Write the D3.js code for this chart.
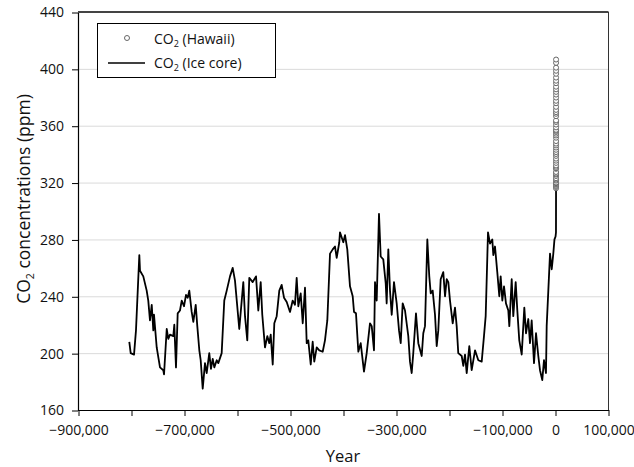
<!DOCTYPE html>
<html>
<head>
<meta charset="utf-8">
<script src="https://cdn.jsdelivr.net/npm/d3@7"></script>
<style>
  body { margin: 0; background: #fff; }
  svg { display: block; font-family: "Open Sans", sans-serif; }
</style>
</head>
<body>
<div id="chart"></div>
<script>
// ice core record (years relative to present, ppm)
var iceYears = [
  -803200, -800600, -794300, -790600, -784300, -783000, -776800, -770400, -767400, -764200,
  -760900, -757900, -756600, -751500, -745300, -739100, -737700, -732600, -729600, -726400,
  -720200, -718300, -715100, -711900, -707600, -704300, -700000, -696200, -693000, -690000,
  -685500, -682400, -677900, -674900, -671100, -668500, -664700, -660400, -657200, -652300,
  -649100, -645800, -642800, -638300, -635300, -628900, -624000, -619400, -613200, -608100,
  -603800, -595700, -591100, -588100, -584900, -580600, -576800, -570400, -564100, -559800,
  -555300, -552300, -547200, -542800, -539100, -536400, -532600, -529600, -525100, -520200,
  -515700, -511300, -506200, -500000, -494900, -490600, -487400, -484300, -479800, -476000,
  -471700, -468500, -465500, -460900, -457200, -454200, -449600, -444700, -438300, -434000,
  -429600, -424500, -419400, -415100, -411900, -407000, -405700, -399400, -396200, -391900,
  -386800, -381700, -379200, -375500, -371100, -366600, -360400, -355300, -349100, -345800,
  -341500, -339600, -336400, -332100, -328900, -324000, -319400, -317600, -314500, -311300,
  -308100, -303800, -298700, -294300, -291100, -287400, -283000, -276800, -273600, -270400,
  -267400, -262300, -257900, -251500, -248500, -245300, -240900, -237200, -234500, -230800,
  -226400, -223200, -220200, -215700, -210800, -207500, -204300, -201300, -198100, -193000,
  -188700, -185500, -182500, -176000, -173000, -169800, -166600, -161700, -157200, -150900,
  -144700, -138300, -134000, -130800, -126400, -122600, -118300, -116400, -113200, -108900,
  -105100, -102500, -99400, -96200, -92500, -88100, -86200, -81700, -78700, -74200,
  -71100, -67400, -62800, -57900, -54700, -50400, -47200, -44000, -39600, -35800,
  -31500, -28300, -24000, -20800, -17000, -15700, -12600, -9400, -6200, -3200,
  -1000, 1000, 1850, 1900, 1950, 1970, 1990, 2001
];
var iceCO2 = [
  208, 200, 199, 216, 269, 258, 254, 244, 237, 223,
  234, 216, 227, 204, 190, 188, 185, 217, 210, 213,
  212, 220, 190, 228, 230, 237, 233, 241, 239, 244,
  229, 222, 234, 219, 202, 195, 175, 193, 186, 200,
  189, 196, 190, 195, 193, 200, 237, 244, 254, 260,
  251, 217, 237, 250, 226, 209, 253, 250, 254, 230,
  250, 227, 204, 212, 207, 213, 192, 221, 226, 244,
  248, 239, 236, 229, 237, 234, 253, 233, 242, 221,
  246, 207, 209, 192, 208, 194, 204, 202, 201, 209,
  223, 270, 273, 275, 267, 278, 285, 278, 283, 273,
  247, 240, 229, 228, 201, 207, 187, 200, 221, 219,
  202, 250, 237, 298, 268, 266, 249, 235, 273, 244,
  227, 250, 235, 216, 207, 235, 230, 212, 194, 186,
  200, 228, 207, 198, 214, 219, 280, 254, 242, 244,
  227, 205, 216, 252, 257, 240, 252, 250, 237, 221,
  232, 219, 200, 198, 191, 199, 186, 205, 188, 202,
  195, 194, 212, 226, 285, 277, 280, 269, 275, 257,
  240, 254, 237, 247, 235, 230, 219, 252, 226, 250,
  230, 209, 199, 232, 214, 224, 207, 223, 193, 214,
  198, 188, 181, 195, 186, 219, 244, 270, 259, 270,
  280, 282, 285, 296, 311, 325, 354, 370
];

// Mauna Loa annual means
var hawaiiYears = d3.range(1959, 2018);
var hawaiiCO2 = [
  315.97, 316.91, 317.64, 318.45, 318.99, 319.62, 320.04, 321.38, 322.16, 323.04,
  324.62, 325.68, 326.32, 327.45, 329.68, 330.18, 331.11, 332.04, 333.83, 335.40,
  336.84, 338.75, 340.11, 341.45, 343.05, 344.65, 346.12, 347.42, 349.19, 351.57,
  353.12, 354.39, 355.61, 356.45, 357.10, 358.83, 360.82, 362.61, 363.73, 366.70,
  368.38, 369.55, 371.14, 373.28, 375.80, 377.52, 379.80, 381.90, 383.79, 385.60,
  387.43, 389.90, 391.65, 393.85, 396.52, 398.65, 400.83, 404.24, 406.55
];

var xTicks = d3.range(-900000, 100001, 100000);
var xLabelled = [-900000, -700000, -500000, -300000, -100000, 0, 100000];
var yTicks = d3.range(160, 441, 40);
var yGrid = [200, 240, 280, 320, 360, 400];

var width = 634, height = 467;
var plot = { left: 78, right: 608, top: 12, bottom: 410 };

function translate(x, y) {
  return 'translate(' + x + ',' + y + ')';
}

var x = d3.scaleLinear().domain([-900000, 100000]).range([plot.left, plot.right]);
var y = d3.scaleLinear().domain([160, 440]).range([plot.bottom, plot.top]);

var svg = d3.select('#chart').append('svg')
  .attr('width', width)
  .attr('height', height);

// gridlines
svg.append('g').selectAll('line').data(yGrid).enter()
  .append('line')
    .attr('x1', plot.left)
    .attr('x2', plot.right)
    .attr('y1', function(d) { return y(d) + 0.5; })
    .attr('y2', function(d) { return y(d) + 0.5; })
    .attr('stroke', '#dadada')
    .attr('stroke-width', 1);

// ice core line
var ice = iceYears.map(function(d, i) { return { year: d, co2: iceCO2[i] }; });
var line = d3.line()
  .x(function(d) { return x(d.year); })
  .y(function(d) { return y(d.co2); });

svg.append('path')
  .datum(ice)
  .attr('d', line)
  .attr('fill', 'none')
  .attr('stroke', '#000')
  .attr('stroke-width', 1.8)
  .attr('stroke-linejoin', 'round');

// hawaii circles
var hawaii = hawaiiYears.map(function(d, i) { return { year: d, co2: hawaiiCO2[i] }; });
svg.append('g').selectAll('circle').data(hawaii).enter()
  .append('circle')
    .attr('cx', function(d) { return x(d.year); })
    .attr('cy', function(d) { return y(d.co2); })
    .attr('r', 2.5)
    .attr('fill', '#fff')
    .attr('stroke', '#666')
    .attr('stroke-width', 1);

// frame (top, right)
svg.append('line')
  .attr('x1', plot.left).attr('x2', plot.right + 0.5)
  .attr('y1', plot.top).attr('y2', plot.top)
  .attr('stroke', '#444').attr('stroke-width', 2);
svg.append('line')
  .attr('x1', plot.right + 0.5).attr('x2', plot.right + 0.5)
  .attr('y1', plot.top).attr('y2', plot.bottom)
  .attr('stroke', '#333').attr('stroke-width', 1);

// axes
var fmt = d3.format(',');
var xAxis = d3.axisBottom(x)
  .tickValues(xTicks)
  .tickSizeInner(6)
  .tickSizeOuter(0)
  .tickPadding(9)
  .tickFormat(function(d) { return xLabelled.indexOf(d) >= 0 ? fmt(d) : ''; });

var yAxis = d3.axisLeft(y)
  .tickValues(yTicks)
  .tickSizeInner(6)
  .tickSizeOuter(0)
  .tickPadding(8);

var gx = svg.append('g')
  .attr('transform', translate(0.5, plot.bottom))
  .call(xAxis);
var gy = svg.append('g')
  .attr('transform', translate(plot.left, 0.5))
  .call(yAxis);

[gx, gy].forEach(function(g) {
  g.selectAll('.domain').attr('stroke', '#000').attr('stroke-width', 1.2);
  g.selectAll('.tick line').attr('stroke', '#000').attr('stroke-width', 1);
  g.selectAll('.tick text')
    .attr('font-family', '"Open Sans", sans-serif')
    .attr('font-size', 14)
    .attr('fill', '#111');
});

// axis titles
svg.append('text')
  .attr('x', (plot.left + plot.right) / 2)
  .attr('y', 462)
  .attr('text-anchor', 'middle')
  .attr('font-size', 16.5)
  .attr('fill', '#111')
  .text('Year');

var yTitle = svg.append('text')
  .attr('transform', translate(30, 199) + ' rotate(-90)')
  .attr('text-anchor', 'middle')
  .attr('font-size', 17.5)
  .attr('fill', '#111');
yTitle.append('tspan').text('CO');
yTitle.append('tspan').attr('font-size', 10.5).attr('dy', 4).text('2');
yTitle.append('tspan').attr('dy', -4).text(' concentrations (ppm)');

// legend
var legend = svg.append('g').attr('transform', translate(97, 23));
legend.append('rect')
  .attr('x', 0.5).attr('y', 0.5)
  .attr('width', 178).attr('height', 54)
  .attr('fill', '#fff')
  .attr('stroke', '#000')
  .attr('stroke-width', 1);

legend.append('circle')
  .attr('cx', 30).attr('cy', 15)
  .attr('r', 2.5)
  .attr('fill', '#fff')
  .attr('stroke', '#666');

legend.append('line')
  .attr('x1', 11).attr('x2', 48)
  .attr('y1', 40).attr('y2', 40)
  .attr('stroke', '#000')
  .attr('stroke-width', 1.5);

var labels = [' (Hawaii)', ' (Ice core)'];
labels.forEach(function(l, i) {
  var t = legend.append('text')
    .attr('x', 57)
    .attr('y', 21 + i * 24)
    .attr('font-size', 14)
    .attr('fill', '#111');
  t.append('tspan').text('CO');
  t.append('tspan').attr('font-size', 9).attr('dy', 3).text('2');
  t.append('tspan').attr('dy', -3).text(l);
});
</script>
</body>
</html>
